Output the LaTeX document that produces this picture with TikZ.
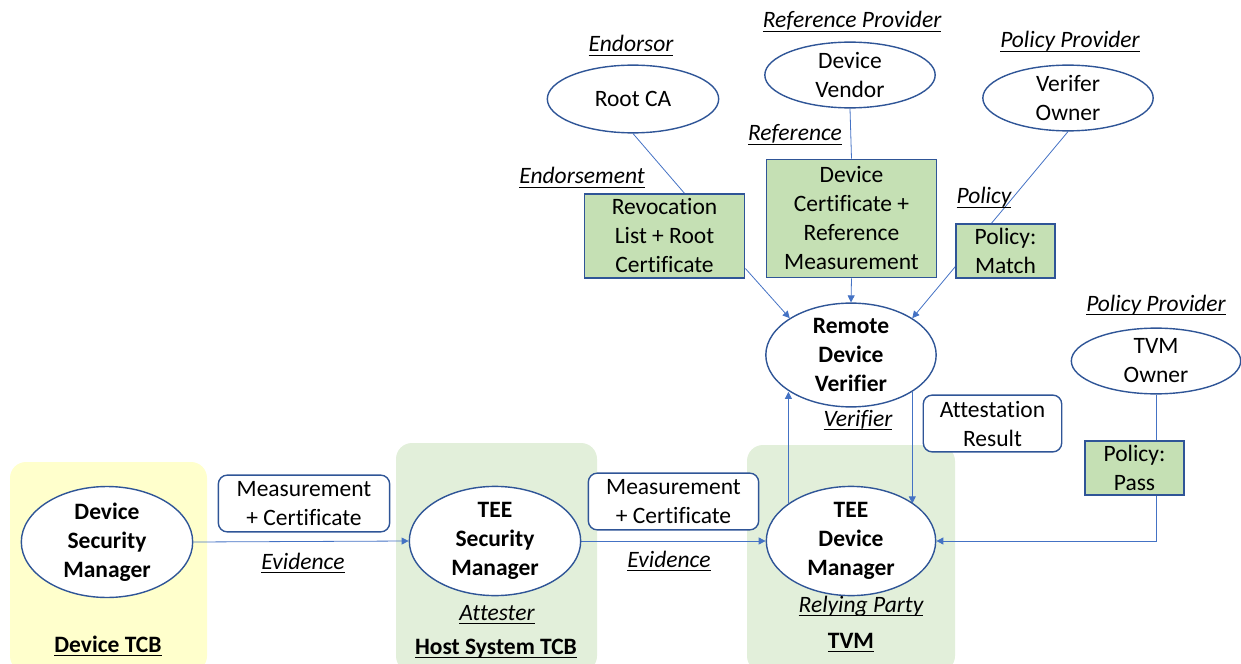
\documentclass[tikz,border=0pt]{standalone}
\usepackage{fontspec}
\setmainfont{Carlito}[Ligatures={NoCommon}]
\usetikzlibrary{shapes.geometric,arrows.meta,calc}
\pgfdeclarelayer{bg}
\pgfdeclarelayer{lines}
\pgfsetlayers{bg,lines,main}
\definecolor{cBorder}{HTML}{2F5597}
\definecolor{cLine}{HTML}{4472C4}
\definecolor{cGreen}{HTML}{C5E0B4}
\definecolor{cArea}{HTML}{E2EFDA}
\definecolor{cYellow}{HTML}{FFFFCC}
\newcommand\ulab[1]{\setbox0\hbox{#1}\rlap{\rule[-4bp]{\wd0}{1.2bp}}\box0}
\begin{document}
\begin{tikzpicture}[x=1bp,y=-1bp,
  font=\fontsize{23.5bp}{29bp}\selectfont,
  ell/.style={ellipse, draw=cBorder, line width=1.4bp, fill=white, inner sep=0pt, align=center},
  gbox/.style={rectangle, draw=cBorder, line width=1.4bp, fill=cGreen, inner sep=0pt, align=center},
  wbox/.style={rectangle, rounded corners=9bp, draw=cBorder, line width=1.4bp, fill=white, inner sep=0pt, align=center},
  lab/.style={anchor=base, inner sep=0pt, font=\fontsize{23.5bp}{29bp}\selectfont\itshape},
  blab/.style={anchor=base, inner sep=0pt, font=\fontsize{23.5bp}{29bp}\selectfont\bfseries},
  conn/.style={draw=cLine, line width=0.8bp},
  arr/.style={conn, -{Triangle[length=7bp,width=7bp]}}]
\useasboundingbox (0,0) rectangle (1241,664);

% areas
\begin{pgfonlayer}{bg}
\fill[cYellow, rounded corners=16bp] (10,462) rectangle (207,672);
\fill[cArea, rounded corners=16bp] (396,443) rectangle (597,672);
\fill[cArea, rounded corners=16bp] (747,445) rectangle (955,672);
\end{pgfonlayer}

% ellipses
\node[ell, minimum width=172, minimum height=100, font=\fontsize{23.5bp}{29bp}\selectfont\bfseries] (dsm) at (107,542) {Device\\Security\\Manager};
\node[ell, minimum width=172, minimum height=101, font=\fontsize{23.5bp}{29bp}\selectfont\bfseries] (tsm) at (495,541) {TEE\\Security\\Manager};
\node[ell, minimum width=170, minimum height=102, font=\fontsize{23.5bp}{29bp}\selectfont\bfseries] (tdm) at (851,541) {TEE\\Device\\Manager};
\node[ell, minimum width=171, minimum height=103, font=\fontsize{23.5bp}{29bp}\selectfont\bfseries] (rdv) at (851,355) {Remote\\Device\\Verifier};
\node[ell, minimum width=172, minimum height=68] (rca) at (633,99) {Root CA};
\node[ell, minimum width=171, minimum height=66] (dv) at (850,75) {Device\\Vendor};
\node[ell, minimum width=171, minimum height=66] (vo) at (1068,98) {Verifer\\Owner};
\node[ell, minimum width=170, minimum height=66] (tvo) at (1156,361) {TVM\\Owner};

% green boxes
\node[gbox, minimum width=161, minimum height=84] (rev) at (664.5,236) {Revocation\\List + Root\\Certificate};
\node[gbox, minimum width=171, minimum height=119] (dc) at (851.5,218.5) {Device\\Certificate +\\Reference\\Measurement};
\node[gbox, minimum width=99, minimum height=54] (pm) at (1005.5,251) {Policy:\\Match};
\node[gbox, minimum width=99, minimum height=54] (pp) at (1134.5,468) {Policy:\\Pass};

% white boxes
\node[wbox, minimum width=172, minimum height=57] (mc1) at (304,503.5) {Measurement\\+ Certificate};
\node[wbox, minimum width=171, minimum height=57] (mc2) at (673.5,501.5) {Measurement\\+ Certificate};
\node[wbox, minimum width=139, minimum height=57] (ar) at (992.5,423.5) {Attestation\\Result};

% labels
\node[lab] (lEndorsor) at (631,52) {\ulab{Endorsor}};
\node[lab] (lRefProv) at (852,28) {\ulab{Reference Provider}};
\node[lab] (lPolProv1) at (1070,48) {\ulab{Policy Provider}};
\node[lab] (lRef) at (795,141) {\ulab{Reference}};
\node[lab] (lEndorsement) at (582,184) {\ulab{Endorsement}};
\node[lab] (lPolicy) at (984,204) {\ulab{Policy}};
\node[lab] (lPolProv2) at (1156,311) {\ulab{Policy Provider}};
\node[lab] (lVerifier) at (858,426) {\ulab{Verifier}};
\node[lab] (lEv1) at (303,569) {\ulab{Evidence}};
\node[lab] (lEv2) at (669,567) {\ulab{Evidence}};
\node[lab] (lAttester) at (497,620) {\ulab{Attester}};
\node[lab] (lRP) at (861,612) {\ulab{Relying Party}};
\node[blab] (lDTCB) at (108,652) {\ulab{Device TCB}};
\node[blab] (lHTCB) at (496,654) {\ulab{Host System TCB}};
\node[blab] (lTVM) at (851,648) {\ulab{TVM}};

% connectors
\begin{pgfonlayer}{lines}
\coordinate (revTop) at ($(rev.north west)+(101,0)$);
\coordinate (revRight) at ($(rev.south east)+(0,-10)$);
\draw[conn] (rca.south) -- (revTop);
\draw[arr] (revRight) -- (rdv.149);
\draw[conn] (dv.south) -- (dc.north);
\draw[arr] (dc.south) -- (rdv.north);
\draw[arr] (vo.south) -- (rdv.31);
\draw[arr] (tdm.149) -- (tdm.149 |- rdv.211);
\draw[arr] (rdv.329) -- (rdv.329 |- tdm.31);
\draw[arr] (dsm.east) -- (tsm.west);
\draw[arr] (tsm.east) -- (tdm.west);
\coordinate (ppTop) at (tvo.south |- pp.north);
\coordinate (ppBot) at (tvo.south |- pp.south);
\draw[conn] (tvo.south) -- (ppTop);
\draw[arr] (ppBot) |- (tdm.east);
\end{pgfonlayer}
\end{tikzpicture}
\end{document}
